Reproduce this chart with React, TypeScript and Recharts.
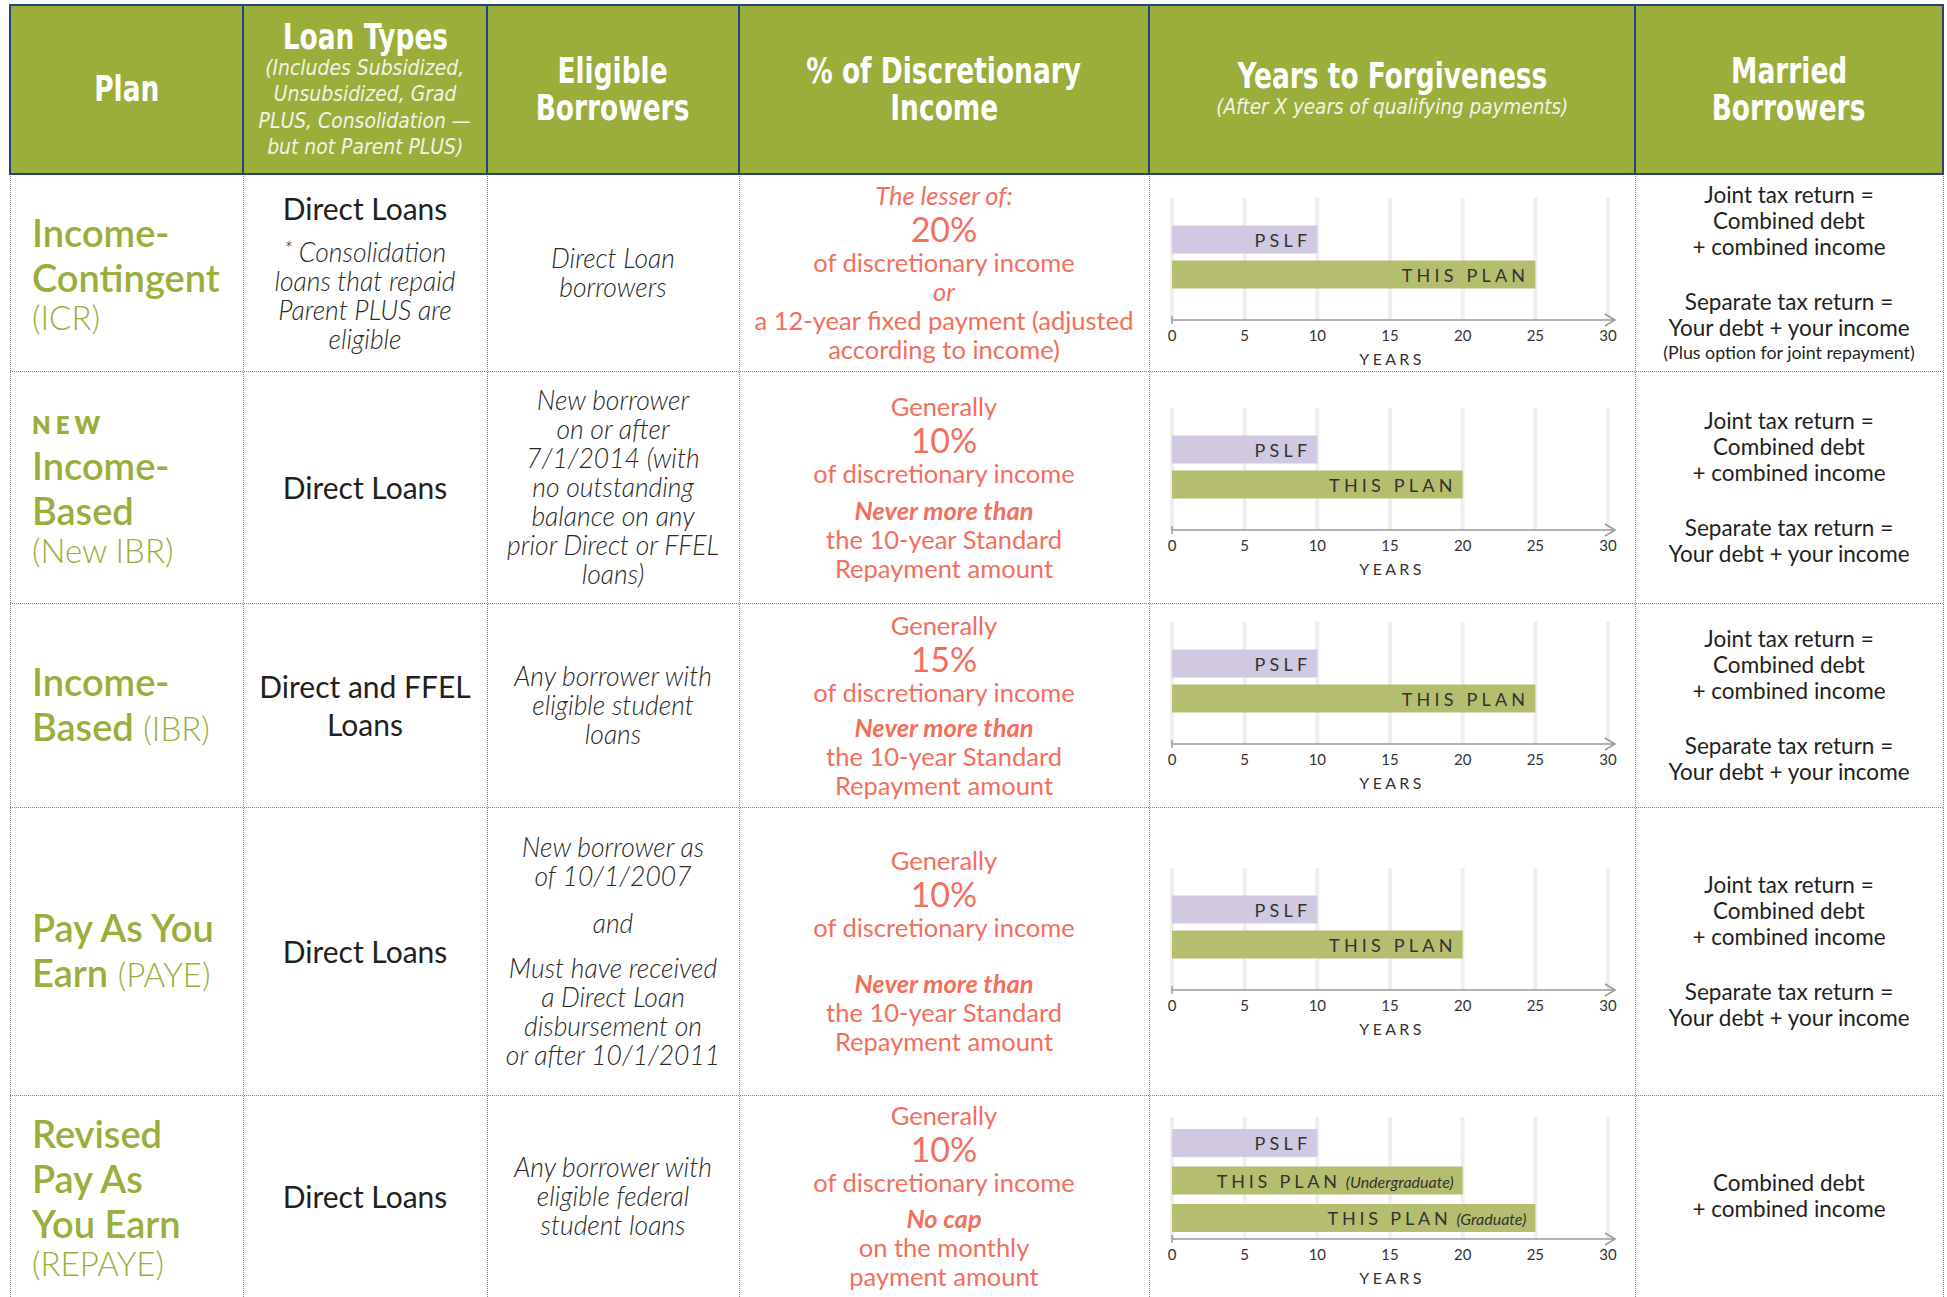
import React from 'react';
import { BarChart, Bar, XAxis, YAxis, CartesianGrid, Cell, LabelList } from 'recharts';

// Years to forgiveness, one mini chart per plan row
const planKeys = ['ICR', 'New IBR', 'IBR', 'PAYE', 'REPAYE'];
const pslfYears = [10, 10, 10, 10, 10];
const thisPlanYears = [25, 20, 25, 20, 20]; // REPAYE row: undergraduate
const repayeGraduateYears = 25;
const yearTicks = [0, 5, 10, 15, 20, 25, 30];

const HEAD = '"Liberation Sans Narrow", "DejaVu Sans Condensed", "Arial Narrow", sans-serif';
const BODY = 'Lato, "Open Sans", sans-serif';
const GREEN = '#9bad3b';
const RED = '#f26f5e';
const NAVY = '#26457a';
const INK = '#231f20';
const PSLF_COLOR = '#d0c9e1';
const PLAN_COLOR = '#b5be6e';

const colX = [10, 243, 487, 739, 1149, 1635, 1943];
const rowY = [174, 371, 603, 807, 1095, 1297];
const axisY = [320, 530, 744, 990, 1239];

type BarRow = { id: string; label: string; note?: string; years: number; color: string };

const chartRows: BarRow[][] = planKeys.map((k, i) => {
  const rows: BarRow[] = [
    { id: 'pslf', label: 'PSLF', years: pslfYears[i], color: PSLF_COLOR },
    {
      id: 'plan',
      label: 'THIS PLAN',
      note: k === 'REPAYE' ? '(Undergraduate)' : undefined,
      years: thisPlanYears[i],
      color: PLAN_COLOR,
    },
  ];
  if (k === 'REPAYE') {
    rows.push({ id: 'grad', label: 'THIS PLAN', note: '(Graduate)', years: repayeGraduateYears, color: PLAN_COLOR });
  }
  return rows;
});

const makeBarLabel = (rows: BarRow[]) => (props: any) => {
  const vb = props.viewBox || {};
  const x = Number(props.x ?? vb.x);
  const y = Number(props.y ?? vb.y);
  const width = Number(props.width ?? vb.width);
  const height = Number(props.height ?? vb.height);
  const r = rows[props.index] || rows[0];
  return (
    <text
      x={x + width - (r.note ? 9 : 6)}
      y={y + height / 2}
      textAnchor="end"
      dominantBaseline="central"
      fill="#333"
      fontFamily={BODY}
      fontSize={18}
    >
      <tspan letterSpacing={r.note ? 3.8 : 4.2}>{r.label}</tspan>
      {r.note ? (
        <tspan dx={5} fontStyle="italic" fontSize={16} letterSpacing={0}>
          {r.note}
        </tspan>
      ) : null}
    </text>
  );
};

function AxisDecor(props: any) {
  const vb = props.viewBox || {};
  const x = Number(vb.x);
  const y = Number(vb.y);
  const w = Number(vb.width);
  if (!isFinite(x)) return null;
  return (
    <g>
      <line x1={x} y1={y - 4} x2={x} y2={y + 4} stroke="#9a9a9a" strokeWidth={1.5} />
      <line x1={x + w} y1={y} x2={x + w + 7} y2={y} stroke="#9a9a9a" strokeWidth={1.5} />
      <polyline
        points={`${x + w - 3},${y - 6} ${x + w + 7},${y} ${x + w - 3},${y + 6}`}
        fill="none"
        stroke="#9a9a9a"
        strokeWidth={1.5}
      />
      <text
        x={x + w / 2 + 2}
        y={y + 38}
        textAnchor="middle"
        dominantBaseline="central"
        fontFamily={BODY}
        fontSize={16}
        letterSpacing={3.3}
        fill="#333"
      >
        YEARS
      </text>
    </g>
  );
}

function ForgivenessChart({ rows, baseY }: { rows: BarRow[]; baseY: number }) {
  const three = rows.length > 2;
  return (
    <div style={{ position: 'absolute', left: colX[4], top: baseY - 122 }}>
      <BarChart
        width={486}
        height={180}
        data={rows}
        layout="vertical"
        margin={{ top: 0, right: 27, bottom: 8, left: 23 }}
      >
        <CartesianGrid horizontal={false} stroke="#eeeeee" strokeWidth={4} />
        <XAxis
          type="number"
          domain={[0, 30]}
          ticks={yearTicks}
          interval={0}
          height={50}
          tickSize={0}
          tickMargin={10}
          axisLine={{ stroke: '#9a9a9a', strokeWidth: 1.5 }}
          tick={{ fill: '#333', fontSize: 15, fontFamily: BODY }}
          label={<AxisDecor />}
        />
        <YAxis
          type="category"
          dataKey="id"
          hide
          padding={three ? { top: 7, bottom: 2.5 } : { top: 23.5, bottom: 28.5 }}
        />
        <Bar dataKey="years" barSize={28} isAnimationActive={false}>
          {rows.map((r) => (
            <Cell key={r.id} fill={r.color} />
          ))}
          <LabelList dataKey="label" content={makeBarLabel(rows)} />
        </Bar>
      </BarChart>
    </div>
  );
}

type LineProps = {
  children: React.ReactNode;
  size?: number;
  lh?: number;
  weight?: number;
  italic?: boolean;
  color?: string;
  mt?: number;
  ls?: number;
  font?: string;
  sx?: number;
};

function L({ children, size = 25, lh = 29, weight = 400, italic = false, color, mt = 0, ls = 0, font, sx }: LineProps) {
  return (
    <div
      style={{
        fontSize: size,
        lineHeight: `${lh}px`,
        fontWeight: weight,
        fontStyle: italic ? 'italic' : 'normal',
        color,
        marginTop: mt,
        letterSpacing: ls,
        whiteSpace: 'nowrap',
        fontFamily: font,
      }}
    >
      {sx ? (
        <span style={{ display: 'inline-block', transform: `scaleX(${sx})`, transformOrigin: 'center' }}>{children}</span>
      ) : (
        children
      )}
    </div>
  );
}

function Box({ col, top, bottom, left, children }: { col: number; top: number; bottom: number; left?: boolean; children: React.ReactNode }) {
  return (
    <div
      style={{
        position: 'absolute',
        left: colX[col],
        top,
        width: colX[col + 1] - colX[col],
        height: bottom - top,
        display: 'flex',
        flexDirection: 'column',
        justifyContent: 'center',
        alignItems: left ? 'flex-start' : 'center',
        textAlign: left ? 'left' : 'center',
        paddingLeft: left ? 22 : 0,
        boxSizing: 'border-box',
      }}
    >
      {children}
    </div>
  );
}

const H = (p: { children: React.ReactNode; lh?: number }) => (
  <L size={35} lh={p.lh ?? 37} weight={700} color="#fff" font={HEAD} sx={0.84}>
    {p.children}
  </L>
);
const HSub = (p: { children: React.ReactNode; sx?: number }) => (
  <L size={22} lh={26.5} italic color="#f1f4e4" font={HEAD} sx={p.sx ?? 0.95}>
    {p.children}
  </L>
);

const PlanBig = (p: { children: React.ReactNode }) => (
  <L size={38} lh={45} weight={600} color={GREEN}>
    {p.children}
  </L>
);
const PlanLight = (p: { children: React.ReactNode }) => (
  <L size={33} lh={35} weight={300} color={GREEN}>
    {p.children}
  </L>
);
const Paren = (p: { children: React.ReactNode }) => (
  <span style={{ fontWeight: 300, fontSize: 33 }}>{p.children}</span>
);

const Loan = (p: { children: React.ReactNode; lh?: number }) => (
  <L size={30} lh={p.lh ?? 34} color={INK}>
    {p.children}
  </L>
);
const Elig = (p: { children: React.ReactNode; mt?: number }) => (
  <L size={26.5} lh={29} weight={300} italic color="#2a2a2a" mt={p.mt}>
    {p.children}
  </L>
);
const Red = (p: { children: React.ReactNode; mt?: number; italic?: boolean; bold?: boolean }) => (
  <L size={25.5} lh={29} italic={p.italic} weight={p.bold ? 700 : 400} color={RED} mt={p.mt}>
    {p.children}
  </L>
);
const Pct = (p: { children: React.ReactNode }) => (
  <L size={34} lh={38} color={RED}>
    {p.children}
  </L>
);
const Mar = (p: { children: React.ReactNode; mt?: number }) => (
  <L size={22.5} lh={26} color={INK} mt={p.mt}>
    {p.children}
  </L>
);

function NeverMore({ mt }: { mt: number }) {
  return (
    <>
      <Red italic bold mt={mt}>
        Never more than
      </Red>
      <Red>the 10-year Standard</Red>
      <Red>Repayment amount</Red>
    </>
  );
}

function MarriedBoth() {
  return (
    <>
      <Mar>Joint tax return =</Mar>
      <Mar>Combined debt</Mar>
      <Mar>+ combined income</Mar>
      <Mar mt={29}>Separate tax return =</Mar>
      <Mar>Your debt + your income</Mar>
    </>
  );
}

export default function App() {
  const hLine = (y: number, key: string, style: string, x0 = colX[0], x1 = colX[6]) => (
    <div key={key} style={{ position: 'absolute', left: x0, top: y, width: x1 - x0, height: 0, borderTop: style }} />
  );
  const vLine = (x: number, key: string, style: string, y0: number, y1: number) => (
    <div key={key} style={{ position: 'absolute', left: x, top: y0, width: 0, height: y1 - y0, borderLeft: style }} />
  );
  const dotted = '1px dotted #8a8a8a';
  const solid = `2px solid ${NAVY}`;

  return (
    <div
      style={{
        position: 'absolute',
        left: 0,
        top: 0,
        width: 1947,
        height: 1297,
        overflow: 'hidden',
        background: '#fff',
        fontFamily: BODY,
      }}
    >
      {/* header */}
      <div
        style={{ position: 'absolute', left: colX[0], top: 5, width: colX[6] - colX[0], height: rowY[0] - 5, background: GREEN }}
      />
      <Box col={0} top={5} bottom={174}>
        <H>Plan</H>
      </Box>
      <Box col={1} top={5} bottom={174}>
        <H lh={36}>Loan Types</H>
        <HSub>(Includes Subsidized,</HSub>
        <HSub>Unsubsidized, Grad</HSub>
        <HSub>PLUS, Consolidation —</HSub>
        <HSub>but not Parent PLUS)</HSub>
      </Box>
      <Box col={2} top={5} bottom={174}>
        <H>Eligible</H>
        <H>Borrowers</H>
      </Box>
      <Box col={3} top={5} bottom={174}>
        <H>% of Discretionary</H>
        <H>Income</H>
      </Box>
      <Box col={4} top={5} bottom={174}>
        <H lh={36}>Years to Forgiveness</H>
        <HSub sx={0.93}>(After X years of qualifying payments)</HSub>
      </Box>
      <Box col={5} top={5} bottom={174}>
        <H>Married</H>
        <H>Borrowers</H>
      </Box>

      {/* row 1: ICR */}
      <Box col={0} top={rowY[0]} bottom={rowY[1]} left>
        <PlanBig>Income-</PlanBig>
        <PlanBig>Contingent</PlanBig>
        <PlanLight>(ICR)</PlanLight>
      </Box>
      <Box col={1} top={rowY[0]} bottom={rowY[1]}>
        <Loan>Direct Loans</Loan>
        <Elig mt={9}>
          <span style={{ fontSize: 21, verticalAlign: 5 }}>*</span> Consolidation
        </Elig>
        <Elig>loans that repaid</Elig>
        <Elig>Parent PLUS are</Elig>
        <Elig>eligible</Elig>
      </Box>
      <Box col={2} top={rowY[0]} bottom={rowY[1]}>
        <Elig>Direct Loan</Elig>
        <Elig>borrowers</Elig>
      </Box>
      <Box col={3} top={rowY[0]} bottom={rowY[1]}>
        <Red italic>The lesser of:</Red>
        <Pct>20%</Pct>
        <Red>of discretionary income</Red>
        <Red italic>or</Red>
        <Red>a 12-year fixed payment (adjusted</Red>
        <Red>according to income)</Red>
      </Box>
      <Box col={5} top={rowY[0]} bottom={rowY[1]}>
        <MarriedBoth />
        <L size={17.8} lh={22} color={INK}>
          (Plus option for joint repayment)
        </L>
      </Box>

      {/* row 2: New IBR */}
      <Box col={0} top={rowY[1]} bottom={rowY[2]} left>
        <L size={24} lh={36} weight={800} ls={5} color={GREEN}>
          NEW
        </L>
        <PlanBig>Income-</PlanBig>
        <PlanBig>Based</PlanBig>
        <PlanLight>(New IBR)</PlanLight>
      </Box>
      <Box col={1} top={rowY[1]} bottom={rowY[2]}>
        <Loan>Direct Loans</Loan>
      </Box>
      <Box col={2} top={rowY[1]} bottom={rowY[2]}>
        <Elig>New borrower</Elig>
        <Elig>on or after</Elig>
        <Elig>7/1/2014 (with</Elig>
        <Elig>no outstanding</Elig>
        <Elig>balance on any</Elig>
        <Elig>prior Direct or FFEL</Elig>
        <Elig>loans)</Elig>
      </Box>
      <Box col={3} top={rowY[1]} bottom={rowY[2]}>
        <Red>Generally</Red>
        <Pct>10%</Pct>
        <Red>of discretionary income</Red>
        <NeverMore mt={8} />
      </Box>
      <Box col={5} top={rowY[1]} bottom={rowY[2]}>
        <MarriedBoth />
      </Box>

      {/* row 3: IBR */}
      <Box col={0} top={rowY[2]} bottom={rowY[3]} left>
        <PlanBig>Income-</PlanBig>
        <PlanBig>
          Based <Paren>(IBR)</Paren>
        </PlanBig>
      </Box>
      <Box col={1} top={rowY[2]} bottom={rowY[3]}>
        <Loan lh={38}>Direct and FFEL</Loan>
        <Loan lh={38}>Loans</Loan>
      </Box>
      <Box col={2} top={rowY[2]} bottom={rowY[3]}>
        <Elig>Any borrower with</Elig>
        <Elig>eligible student</Elig>
        <Elig>loans</Elig>
      </Box>
      <Box col={3} top={rowY[2]} bottom={rowY[3]}>
        <Red>Generally</Red>
        <Pct>15%</Pct>
        <Red>of discretionary income</Red>
        <NeverMore mt={6} />
      </Box>
      <Box col={5} top={rowY[2]} bottom={rowY[3]}>
        <MarriedBoth />
      </Box>

      {/* row 4: PAYE */}
      <Box col={0} top={rowY[3]} bottom={rowY[4]} left>
        <PlanBig>Pay As You</PlanBig>
        <PlanBig>
          Earn <Paren>(PAYE)</Paren>
        </PlanBig>
      </Box>
      <Box col={1} top={rowY[3]} bottom={rowY[4]}>
        <Loan>Direct Loans</Loan>
      </Box>
      <Box col={2} top={rowY[3]} bottom={rowY[4]}>
        <Elig>New borrower as</Elig>
        <Elig>of 10/1/2007</Elig>
        <Elig mt={18}>and</Elig>
        <Elig mt={16}>Must have received</Elig>
        <Elig>a Direct Loan</Elig>
        <Elig>disbursement on</Elig>
        <Elig>or after 10/1/2011</Elig>
      </Box>
      <Box col={3} top={rowY[3]} bottom={rowY[4]}>
        <Red>Generally</Red>
        <Pct>10%</Pct>
        <Red>of discretionary income</Red>
        <NeverMore mt={27} />
      </Box>
      <Box col={5} top={rowY[3]} bottom={rowY[4]}>
        <MarriedBoth />
      </Box>

      {/* row 5: REPAYE */}
      <Box col={0} top={rowY[4]} bottom={rowY[5]} left>
        <PlanBig>Revised</PlanBig>
        <PlanBig>Pay As</PlanBig>
        <PlanBig>You Earn</PlanBig>
        <PlanLight>(REPAYE)</PlanLight>
      </Box>
      <Box col={1} top={rowY[4]} bottom={rowY[5]}>
        <Loan>Direct Loans</Loan>
      </Box>
      <Box col={2} top={rowY[4]} bottom={rowY[5]}>
        <Elig>Any borrower with</Elig>
        <Elig>eligible federal</Elig>
        <Elig>student loans</Elig>
      </Box>
      <Box col={3} top={rowY[4]} bottom={rowY[5]}>
        <Red>Generally</Red>
        <Pct>10%</Pct>
        <Red>of discretionary income</Red>
        <Red italic bold mt={7}>
          No cap
        </Red>
        <Red>on the monthly</Red>
        <Red>payment amount</Red>
      </Box>
      <Box col={5} top={rowY[4]} bottom={rowY[5]}>
        <Mar>Combined debt</Mar>
        <Mar>+ combined income</Mar>
      </Box>

      {/* years to forgiveness charts */}
      {chartRows.map((rows, i) => (
        <ForgivenessChart key={planKeys[i]} rows={rows} baseY={axisY[i]} />
      ))}

      {/* grid lines */}
      {[1, 2, 3, 4].map((i) => hLine(rowY[i], `h${i}`, dotted))}
      {colX.map((x, i) => vLine(x, `v${i}`, dotted, rowY[0], rowY[5]))}
      {hLine(4, 'ht', solid)}
      {hLine(rowY[0] - 1, 'hb', solid)}
      {colX.map((x, i) => vLine(x - 1, `hv${i}`, solid, 4, rowY[0] + 1))}
    </div>
  );
}
